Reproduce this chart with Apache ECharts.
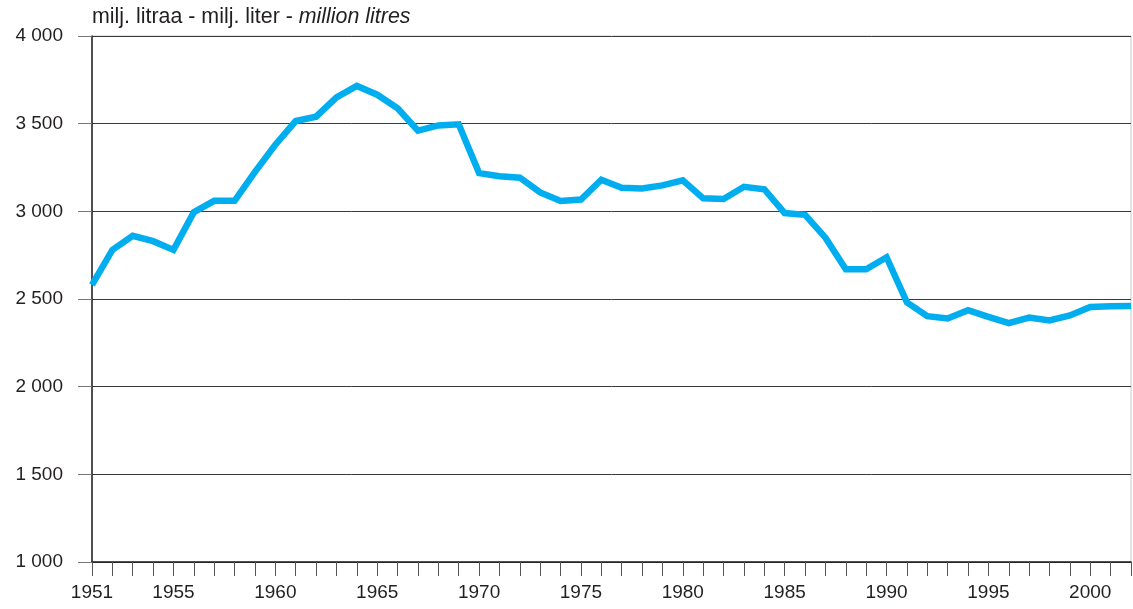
<!DOCTYPE html>
<html>
<head>
<meta charset="utf-8">
<script src="https://cdn.jsdelivr.net/npm/echarts@6/dist/echarts.min.js"></script>
<style>
html,body{margin:0;padding:0;background:#fff;}
#chart{width:1133px;height:609px;}
</style>
</head>
<body>
<div id="chart"></div>
<script>
const years = [];
for (let y = 1951; y <= 2002; y++) years.push(String(y));
const volume = [
  2580, 2780, 2860, 2830, 2780, 2995, 3060, 3060, 3225, 3380,
  3515, 3540, 3650, 3715, 3665, 3588, 3460, 3490, 3496, 3218,
  3200, 3192, 3108, 3059, 3067, 3180, 3135, 3130, 3148, 3177,
  3074, 3070, 3140, 3126, 2990, 2980, 2850, 2670, 2670, 2738,
  2481, 2402, 2389, 2436, 2398, 2362, 2394, 2378, 2406, 2454,
  2458, 2460
];
const yTicks = [1000, 1500, 2000, 2500, 3000, 3500, 4000];
const labelYears = ['1951','1955','1960','1965','1970','1975','1980','1985','1990','1995','2000'];

const chart = echarts.init(document.getElementById('chart'), null, {renderer: 'canvas'});
const fontFam = '"Liberation Sans", Arial, Helvetica, sans-serif';
chart.setOption({
  animation: false,
  backgroundColor: '#ffffff',
  title: {
    left: 92, top: 7, padding: 0,
    text: '{n|milj. litraa - milj. liter - }{i|million litres}',
    textStyle: {
      fontWeight: 'normal',
      rich: {
        n: {fontFamily: fontFam, fontSize: 21.4, fontWeight: 'normal', color: '#231f20'},
        i: {fontFamily: fontFam, fontSize: 21.4, fontWeight: 'normal', color: '#231f20', fontStyle: 'italic'}
      }
    }
  },
  grid: {
    left: 92, right: 2, top: 36, bottom: 47,
    show: true, borderColor: '#c8c8c8', borderWidth: 1
  },
  xAxis: {
    type: 'category',
    data: years,
    boundaryGap: false,
    axisLine: {show: true, lineStyle: {color: '#231f20', width: 1.5}},
    axisTick: {show: true, interval: 0, length: 14, lineStyle: {color: '#555', width: 1}},
    axisLabel: {
      interval: function (i, v) { return labelYears.indexOf(v) >= 0; },
      margin: 21,
      fontFamily: fontFam, fontSize: 19, color: '#231f20'
    },
    splitLine: {show: false}
  },
  yAxis: {
    type: 'value',
    min: yTicks[0], max: yTicks[yTicks.length - 1], interval: 500,
    axisLine: {show: true, lineStyle: {color: '#231f20', width: 1.5}},
    axisTick: {show: true, length: 14, lineStyle: {color: '#777', width: 1}},
    axisLabel: {
      margin: 29,
      fontFamily: fontFam, fontSize: 19, color: '#231f20',
      formatter: function (v) { return String(v).replace(/\B(?=(\d{3})+(?!\d))/g, ' '); }
    },
    splitLine: {show: true, lineStyle: {color: '#3a3a3a', width: 1}}
  },
  series: [{
    type: 'line',
    data: volume,
    showSymbol: false,
    symbol: 'none',
    lineStyle: {color: '#00aeef', width: 6.5, join: 'miter'},
    itemStyle: {color: '#00aeef'}
  }]
});
</script>
</body>
</html>
